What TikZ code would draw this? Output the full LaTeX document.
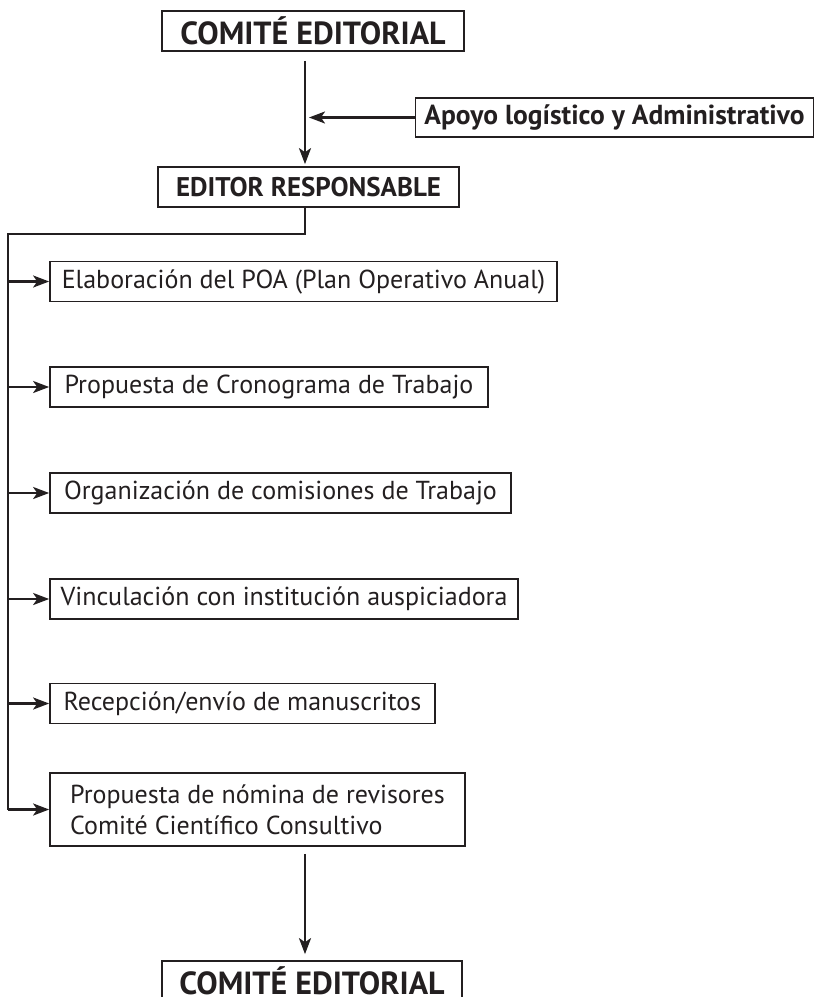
\documentclass[tikz,border=0pt]{standalone}
\usepackage{fontspec}
\setmainfont{PT Sans}
\usepackage{tikz}
\usetikzlibrary{arrows,arrows.meta,positioning}
\usepackage{xcolor}
\definecolor{inkblack}{RGB}{35,31,32}
\tikzstyle{arrow} = [line width=2.2pt,-{Stealth[length=16pt,width=12pt,inset=4pt]},color=inkblack]
\tikzstyle{link} = [line width=2.2pt,color=inkblack]
\tikzstyle{taskbox} = [draw=inkblack, line width=1.7pt, inner sep=0pt, minimum height=40pt, text=inkblack, font=\fontsize{26}{31}\selectfont]
\tikzstyle{headbox} = [taskbox, font=\bfseries\fontsize{32}{36}\selectfont]

\begin{document}
\begin{tikzpicture}[x=1pt, y=-1pt]
\useasboundingbox (0,0) rectangle (815,997);
\coordinate (stem) at (305,0);
\coordinate (knee) at (8,234);

% Heads
\node[headbox, minimum width=302pt] (comite) at (313,31) {COMITÉ EDITORIAL};
\node[headbox, minimum width=398pt, minimum height=39pt, font=\bfseries\fontsize{27.5}{31}\selectfont] (apoyo) at (614.5,117.5) {Apoyo logístico y Administrativo};
\node[headbox, minimum width=301pt, font=\bfseries\fontsize{27}{31}\selectfont] (editor) at (308.5,187) {EDITOR RESPONSABLE};

% Tasks
\node[taskbox, minimum width=507pt] (poa) at (303.5,281.5) {Elaboración del POA (Plan Operativo Anual)};
\node[taskbox, minimum width=438pt] (crono) at (269,387) {Propuesta de Cronograma de Trabajo};
\node[taskbox, minimum width=461pt] (comis) at (280.5,493) {Organización de comisiones de Trabajo};
\node[taskbox, minimum width=468pt] (vinc) at (284,599) {Vinculación con institución auspiciadora};
\node[taskbox, minimum width=385pt] (recep) at (242.5,703.5) {Recepción/envío de manuscritos};
\node[taskbox, minimum width=415pt, minimum height=73pt, align=left] (nomina) at (257.5,809.5) {Propuesta de nómina de revisores\\Comité Científico Consultivo};

\node[headbox, minimum width=300pt] (comite2) at (312,981) {COMITÉ EDITORIAL};

% Connectors
\draw[arrow, line width=2.5pt] ([yshift=-9pt]comite.south -| stem) -- ([yshift=2pt]editor.north -| stem);
\draw[arrow] (apoyo.west) -- ([xshift=4pt]apoyo.west -| stem);
\draw[link] (editor.south -| stem) -- (knee -| stem) -- (knee) -- (knee |- nomina.west);
\foreach \t in {poa,crono,comis,vinc,recep,nomina}
    \draw[arrow] (knee |- \t.west) -- (\t.west);
\draw[arrow, line width=2.5pt] ([yshift=-7pt]nomina.south -| stem) -- ([yshift=6pt]comite2.north -| stem);
\end{tikzpicture}
\end{document}
